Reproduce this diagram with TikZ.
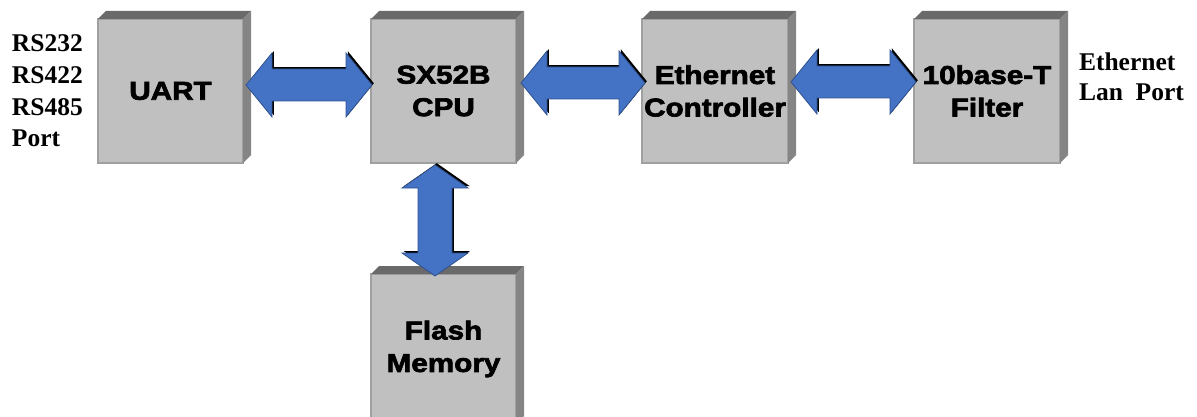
\documentclass[tikz,border=0pt]{standalone}
\usepackage{fontspec}
\usetikzlibrary{calc}
\newfontfamily\boxfont{Liberation Sans Bold}[FakeStretch=1.15,FakeBold=2.6]
\newfontfamily\lblfont{Liberation Serif Bold}
\definecolor{face}{HTML}{C0C0C0}
\definecolor{faceedge}{HTML}{A0A0A0}
\definecolor{topface}{HTML}{6A6A6A}
\definecolor{sideface}{HTML}{858585}
\definecolor{ablue}{HTML}{4472C4}
\definecolor{aedge}{HTML}{2F528F}
\newcommand\bevel[1]{%
 \fill[topface] (#1.north west) -- ++(8,-8) -- ($(#1.north east)+(8,-8)$) -- (#1.north east) -- cycle;
 \fill[sideface] (#1.north east) -- ++(8,-8) -- ($(#1.south east)+(8,-8)$) -- (#1.south east) -- cycle;}
\newcommand\arrowH[2]{%
 \foreach \st in {ashadow,abody}{%
  \path[\st] let \p1=($#1$), \p2=($#2$) in
   (\x1,\y1) -- (\x1+26pt,\y1+32pt) -- (\x1+26pt,\y1+16pt) -- (\x2-26pt,\y1+16pt) -- (\x2-26pt,\y1+32pt) -- (\x2,\y1)
   -- (\x2-26pt,\y1-32pt) -- (\x2-26pt,\y1-16pt) -- (\x1+26pt,\y1-16pt) -- (\x1+26pt,\y1-32pt) -- cycle;}}
\newcommand\arrowV[2]{%
 \foreach \st in {ashadow,abody}{%
  \path[\st] let \p1=($#1$), \p2=($#2$) in
   (\x1,\y1) -- (\x1+33pt,\y1-23pt) -- (\x1+17pt,\y1-23pt) -- (\x1+17pt,\y2+23pt) -- (\x1+33pt,\y2+23pt) -- (\x1,\y2)
   -- (\x1-33pt,\y2+23pt) -- (\x1-17pt,\y2+23pt) -- (\x1-17pt,\y1-23pt) -- (\x1-33pt,\y1-23pt) -- cycle;}}
\begin{document}
\begin{tikzpicture}[x=1pt,y=-1pt,
  box/.style={draw=faceedge, fill=face, line width=1.2pt, outer sep=0pt, inner sep=0pt,
    minimum width=145pt, minimum height=144pt, align=center,
    font=\boxfont\fontsize{25.8}{32.5}\selectfont},
  lbl/.style={inner sep=0pt, outer sep=0pt, align=left, anchor=north west},
  ashadow/.style={fill=black, transform canvas={shift={(1.8pt,1.8pt)}}},
  abody/.style={fill=ablue, draw=aedge, line width=0.8pt, line join=miter}]
\useasboundingbox (0,0) rectangle (1197,417);
\clip (0,0) rectangle (1197,417);
\node[box] (uart) at (170.5,91) {UART};
\node[box] (cpu) at (443.5,91) {SX52B\\CPU};
\node[box, minimum width=146pt] (eth) at (715,91) {Ethernet\\Controller};
\node[box, minimum width=146pt] (filt) at (987,91) {10base-T\\Filter};
\node[box, minimum height=150pt] (flash) at (443.5,349) {Flash\\Memory};
\bevel{uart}\bevel{cpu}\bevel{eth}\bevel{filt}\bevel{flash}
\arrowH{(uart.east)+(3,-6)}{(cpu.west)+(1,-6)}
\arrowH{(cpu.east)+(5,-8)}{(eth.west)+(3,-8)}
\arrowH{(eth.east)+(3,-9)}{(filt.west)+(2,-9)}
\arrowV{(cpu.south)+(-8.5,2)}{(flash.north)+(-8.5,2)}
\node[lbl, font=\lblfont\fontsize{25.5}{31.7}\selectfont] (ports) at (12,35) {RS232\\RS422\\RS485\\Port};
\node[lbl, font=\lblfont\fontsize{25.5}{30}\selectfont] (lan) at (1079,53) {Ethernet\\Lan~~Port};
\end{tikzpicture}
\end{document}
